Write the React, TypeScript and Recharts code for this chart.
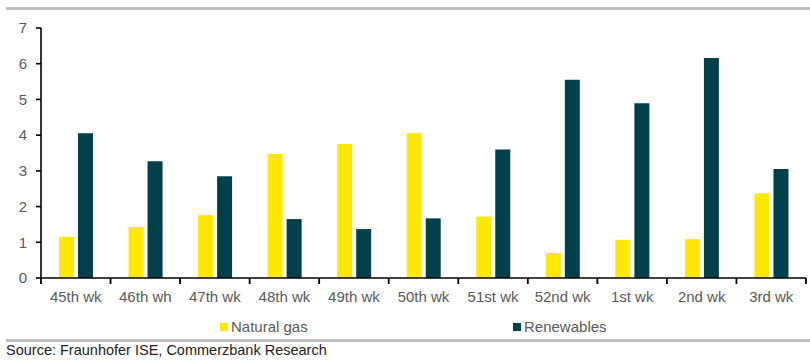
import { BarChart, Bar, XAxis, YAxis } from "recharts";

const weeks = [
  "45th wk",
  "46th wh",
  "47th wk",
  "48th wk",
  "49th wk",
  "50th wk",
  "51st wk",
  "52nd wk",
  "1st wk",
  "2nd wk",
  "3rd wk",
];
const naturalGas = [1.15, 1.43, 1.76, 3.47, 3.75, 4.06, 1.72, 0.7, 1.07, 1.09, 2.37];
const renewables = [4.05, 3.27, 2.85, 1.65, 1.37, 1.67, 3.6, 5.55, 4.89, 6.16, 3.05];
const yTicks = [0, 1, 2, 3, 4, 5, 6, 7];

const GAS = "#ffe800";
const RENEW = "#00404a";
const FONT = "'Liberation Sans', Arial, sans-serif";

const W = 810;
const Y_AXIS_W = 41;
const RIGHT = 4;
const HALF_BAND = (W - Y_AXIS_W - RIGHT) / weeks.length / 2;

const data = weeks.map((w, i) => ({
  week: w,
  gas: naturalGas[i],
  renew: renewables[i],
}));

// category label plus a tick mark on the left boundary of each band
function WeekTick(props: any) {
  const { x, y, payload, index } = props;
  const cx = Number(x);
  const cy = Number(y);
  return (
    <g>
      <rect x={cx - HALF_BAND - 0.9} y={cy} width={1.8} height={6} fill="#000" />
      {index === weeks.length - 1 && (
        <rect x={cx + HALF_BAND - 0.9} y={cy} width={1.8} height={6} fill="#000" />
      )}
      <text x={cx} y={cy + 24} textAnchor="middle" fill="#595959" fontSize={15} fontFamily={FONT}>
        {payload.value}
      </text>
    </g>
  );
}

export default function App() {
  return (
    <div
      style={{
        position: "absolute",
        left: 0,
        top: 0,
        width: 810,
        height: 362,
        background: "#fff",
        fontFamily: FONT,
      }}
    >
      <div style={{ position: "absolute", left: 6, top: 7, width: 804, height: 3, background: "#bfbfbf" }} />
      <BarChart
        width={W}
        height={340}
        data={data}
        margin={{ top: 28, right: RIGHT, left: 0, bottom: 0 }}
        barSize={15}
        barGap={4}
      >
        <YAxis
          width={Y_AXIS_W}
          domain={[0, 7]}
          ticks={yTicks}
          interval={0}
          axisLine={{ stroke: "#000", strokeWidth: 1.6 }}
          tickLine={{ stroke: "#000", strokeWidth: 1.6 }}
          tickSize={5}
          tickMargin={9}
          tick={{ fill: "#595959", fontSize: 15, fontFamily: FONT }}
        />
        <XAxis
          dataKey="week"
          height={62}
          interval={0}
          axisLine={{ stroke: "#000", strokeWidth: 1.6 }}
          tickLine={false}
          tickSize={0}
          tickMargin={0}
          tick={<WeekTick />}
        />
        <Bar dataKey="gas" fill={GAS} isAnimationActive={false} />
        <Bar dataKey="renew" fill={RENEW} isAnimationActive={false} />
      </BarChart>
      <div style={{ position: "absolute", left: 220, top: 318, display: "flex", alignItems: "center", fontSize: 15, color: "#595959" }}>
        <span style={{ width: 8, height: 8, background: GAS, display: "inline-block", marginRight: 3 }} />
        Natural gas
      </div>
      <div style={{ position: "absolute", left: 513, top: 318, display: "flex", alignItems: "center", fontSize: 15, color: "#595959" }}>
        <span style={{ width: 8, height: 8, background: RENEW, display: "inline-block", marginRight: 3 }} />
        Renewables
      </div>
      <div style={{ position: "absolute", left: 6, top: 339, width: 804, height: 3, background: "#bfbfbf" }} />
      <div style={{ position: "absolute", left: 6, top: 342, fontSize: 14.5, color: "#222" }}>
        Source: Fraunhofer ISE, Commerzbank Research
      </div>
    </div>
  );
}
